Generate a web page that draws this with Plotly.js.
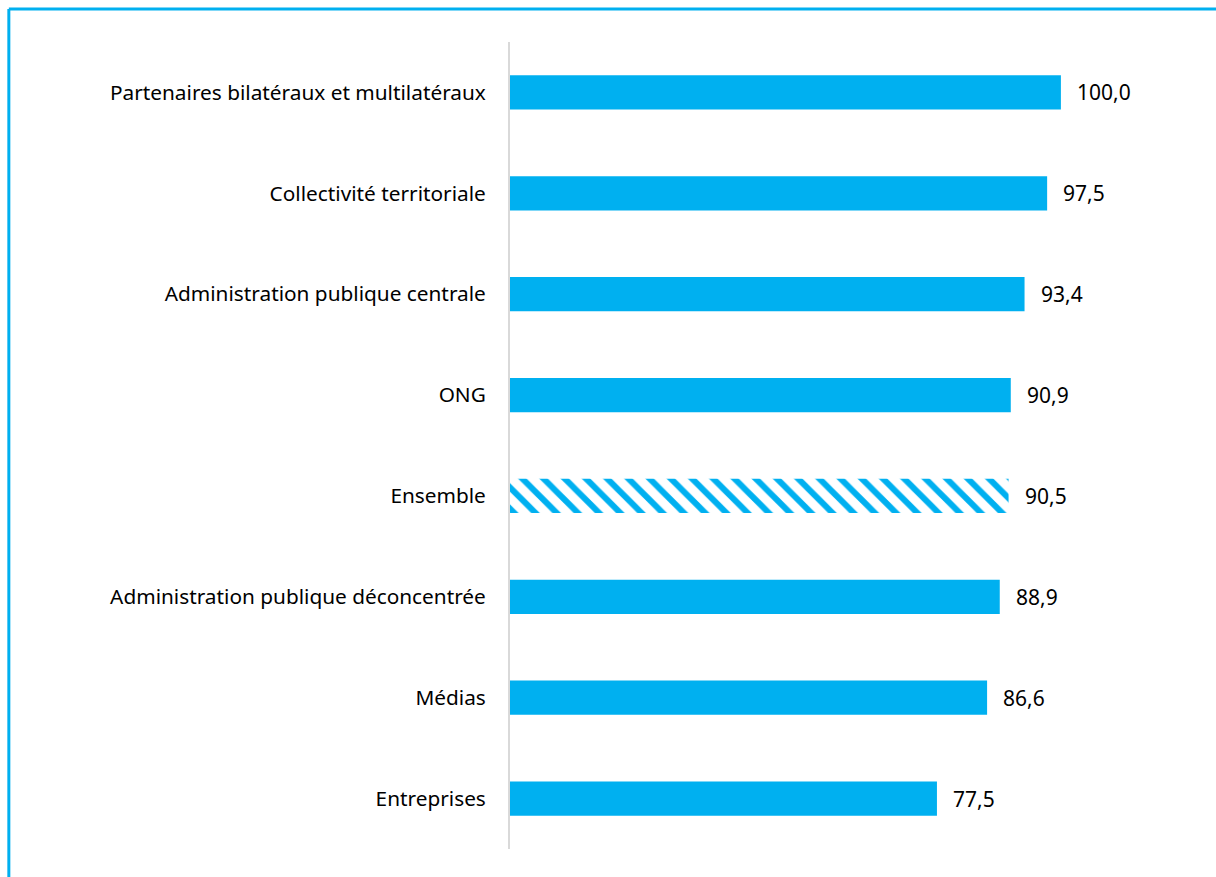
<!DOCTYPE html>
<html>
<head>
<meta charset="utf-8">
<script src="https://cdn.plot.ly/plotly-3.0.1.min.js"></script>
<style>
  html, body { margin: 0; padding: 0; background: #fff; }
  #chart { width: 1216px; height: 877px; }
</style>
</head>
<body>
<div id="chart"></div>
<script>
const categories = [
  "Partenaires bilatéraux et multilatéraux",
  "Collectivité territoriale",
  "Administration publique centrale",
  "ONG",
  "Ensemble",
  "Administration publique déconcentrée",
  "Médias",
  "Entreprises"
];
const values = [100.0, 97.5, 93.4, 90.9, 90.5, 88.9, 86.6, 77.5];
const hatchedCategory = "Ensemble";

const blue = "#00B0F0";
const fontFamily = "'Noto Sans', 'Open Sans', sans-serif";

const patterns = categories.map(c => c === hatchedCategory ? "\\" : "");
const fmt = v => v.toFixed(1).replace(".", ",");

const trace = {
  type: "bar",
  orientation: "h",
  x: values,
  y: categories,
  marker: {
    color: blue,
    line: { width: 0 },
    pattern: { shape: patterns, size: 15, solidity: 0.4 }
  },
  hoverinfo: "skip"
};

const annotations = categories.map((c, i) => ({
  x: values[i], y: c, xref: "x", yref: "y",
  text: fmt(values[i]), showarrow: false,
  xanchor: "left", yanchor: "middle", xshift: 14,
  font: { family: fontFamily, size: 21, color: "#000" }
}));

const layout = {
  width: 1216, height: 877,
  paper_bgcolor: "#fff", plot_bgcolor: "#fff",
  margin: { l: 510, r: 100, t: 42, b: 28 },
  showlegend: false,
  bargap: 0.66,
  font: { family: fontFamily, size: 20, color: "#000" },
  xaxis: {
    range: [0, 110], visible: false, showgrid: false, zeroline: false, fixedrange: true
  },
  yaxis: {
    type: "category",
    autorange: "reversed",
    showline: true, linecolor: "#D9D9D9", linewidth: 2,
    showgrid: false, zeroline: false, ticks: "",
    ticklabelstandoff: 18,
    tickfont: { family: fontFamily, size: 20.8, color: "#000" }
  },
  annotations: annotations,
  shapes: [
    { type: "line", xref: "paper", yref: "paper", x0: -0.827, x1: 1.3, y0: 1.041, y1: 1.041,
      line: { color: blue, width: 3 } },
    { type: "line", xref: "paper", yref: "paper", x0: -0.827, x1: -0.827, y0: 1.041, y1: -0.1,
      line: { color: blue, width: 3 } }
  ]
};

Plotly.newPlot("chart", [trace], layout, { displayModeBar: false, staticPlot: true });
</script>
</body>
</html>
